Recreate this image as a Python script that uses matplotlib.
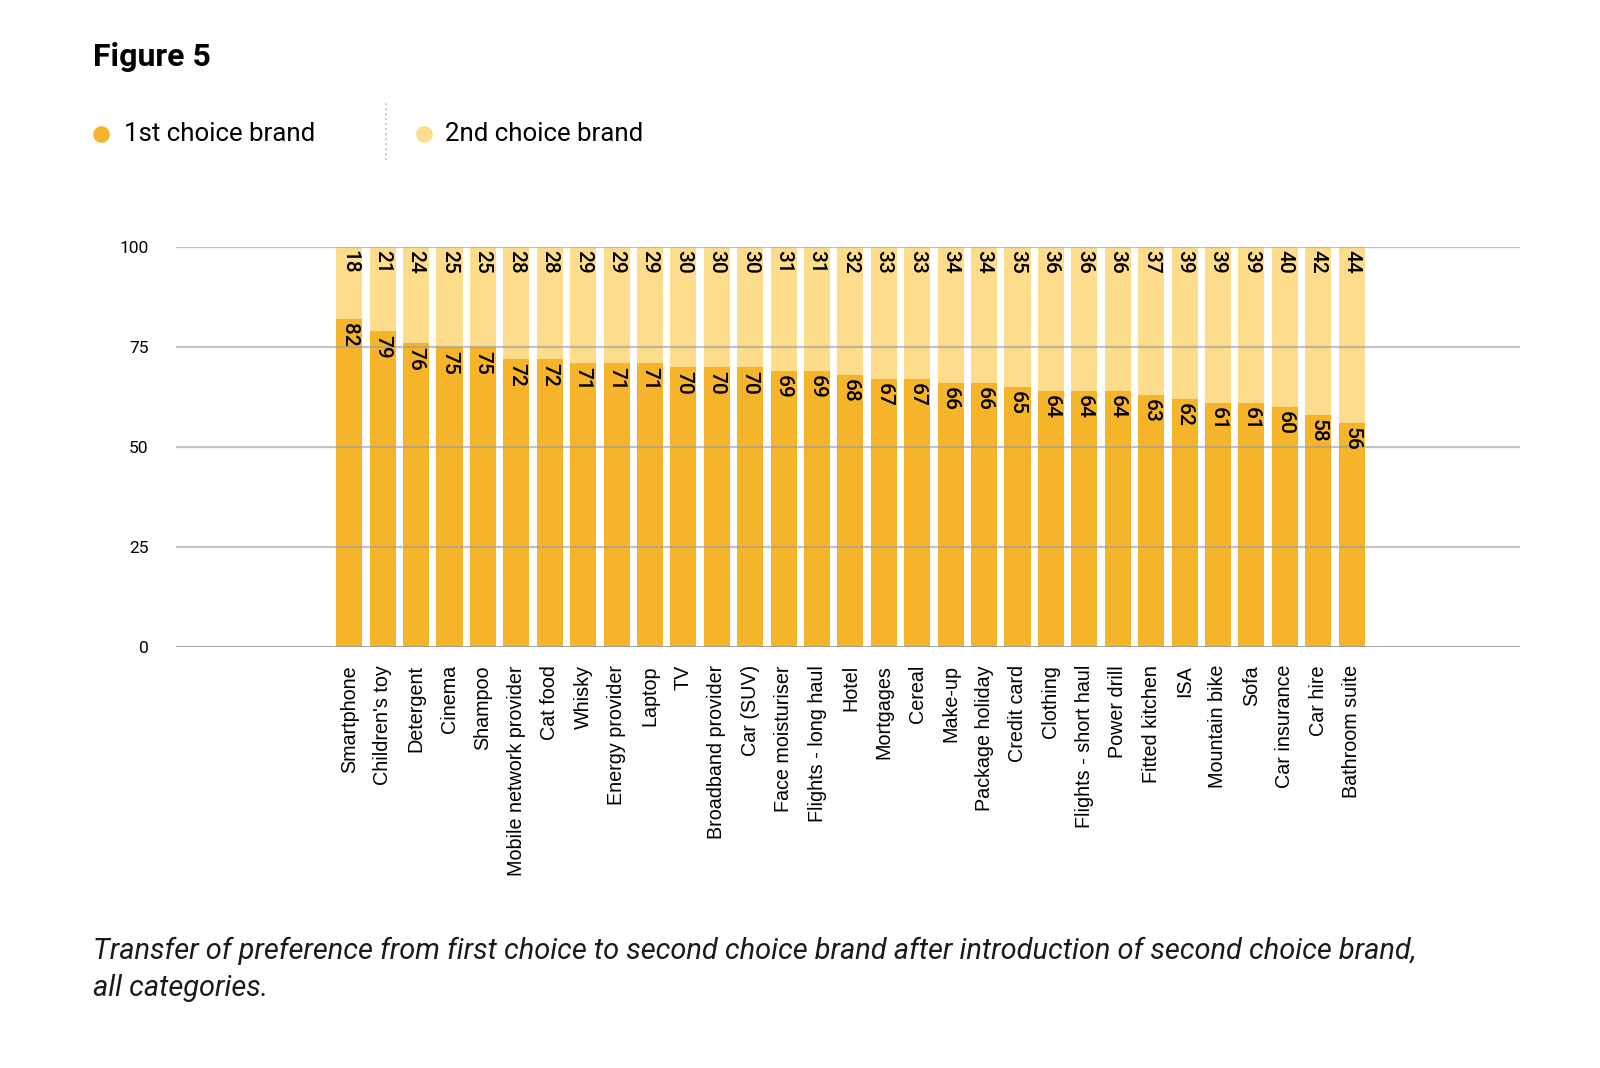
import matplotlib
matplotlib.use("Agg")
import matplotlib.pyplot as plt
import numpy as np
from matplotlib.lines import Line2D

categories = [
    "Smartphone", "Children's toy", "Detergent", "Cinema", "Shampoo",
    "Mobile network provider", "Cat food", "Whisky", "Energy provider", "Laptop",
    "TV", "Broadband provider", "Car (SUV)", "Face moisturiser", "Flights - long haul",
    "Hotel", "Mortgages", "Cereal", "Make-up", "Package holiday",
    "Credit card", "Clothing", "Flights - short haul", "Power drill", "Fitted kitchen",
    "ISA", "Mountain bike", "Sofa", "Car insurance", "Car hire", "Bathroom suite",
]
first_choice = [82, 79, 76, 75, 75, 72, 72, 71, 71, 71, 70, 70, 70, 69, 69, 68,
                67, 67, 66, 66, 65, 64, 64, 64, 63, 62, 61, 61, 60, 58, 56]
second_choice = [18, 21, 24, 25, 25, 28, 28, 29, 29, 29, 30, 30, 30, 31, 31, 32,
                 33, 33, 34, 34, 35, 36, 36, 36, 37, 39, 39, 39, 40, 42, 44]
y_ticks = [0, 25, 50, 75, 100]

c_first = "#F6B42A"
c_second = "#FDDD8C"

plt.rcParams["font.family"] = ["Roboto", "DejaVu Sans"]

fig = plt.figure(figsize=(16, 10.68), dpi=100)
ax = fig.add_axes([0.1097, 0.3942, 0.8403, 0.3745])

x = np.arange(len(categories))
ax.bar(x, first_choice, width=0.78, color=c_first, zorder=2)
ax.bar(x, second_choice, width=0.78, bottom=first_choice, color=c_second, zorder=2)

for yt in y_ticks:
    ax.axhline(yt, color="#9a9aa4", alpha=0.6 if yt else 0.9,
               lw=1.6 if yt else 2.2, zorder=3)

# labels: 1st choice just under its top, 2nd choice at the top of the stack
for xi, f, s in zip(x, first_choice, second_choice):
    ax.annotate(str(f), (xi, f), xytext=(0, -3), textcoords="offset points",
                rotation=270, ha="center", va="top", fontsize=15,
                fontweight="medium", zorder=4, annotation_clip=False)
    ax.annotate(str(s), (xi, min(f + s, 100)), xytext=(0, -2),
                textcoords="offset points", rotation=270, ha="center",
                va="top", fontsize=15, fontweight="medium", zorder=4,
                annotation_clip=False)

ax.set_xlim(-5.2, 35.04)
ax.set_ylim(0, 100)
ax.set_yticks(y_ticks)
ax.set_xticks(x)
ax.set_xticklabels(categories, rotation=90, fontsize=14.2,
                   family=["Liberation Sans", "DejaVu Sans"])
ax.tick_params(axis="both", length=0)
ax.tick_params(axis="y", pad=19.5, labelsize=12.5)
ax.tick_params(axis="x", pad=13)
for sp in ax.spines.values():
    sp.set_visible(False)

fig.text(0.058, 0.947, "Figure 5", fontsize=23, fontweight="bold", va="center")

# legend
fig.add_artist(Line2D([0.0631], [0.8745], marker="o", markersize=11,
                      color=c_first, linestyle="none"))
fig.text(0.0778, 0.8745, "1st choice brand", fontsize=18.6, va="center")
fig.add_artist(Line2D([0.2647], [0.8745], marker="o", markersize=11,
                      color=c_second, linestyle="none"))
fig.text(0.278, 0.8745, "2nd choice brand", fontsize=18.6, va="center")
fig.add_artist(Line2D([0.2412, 0.2412], [0.850, 0.904], color="#b8b8c0",
                      lw=1.2, linestyle=(0, (1, 2))))

fig.text(0.058, 0.092,
         "Transfer of preference from first choice to second choice brand after introduction of second choice brand,\nall categories.",
         fontsize=20.9, style="italic", va="center",
         linespacing=1.42, color="#1a1a1a")

fig.savefig("out.png", dpi=100)
